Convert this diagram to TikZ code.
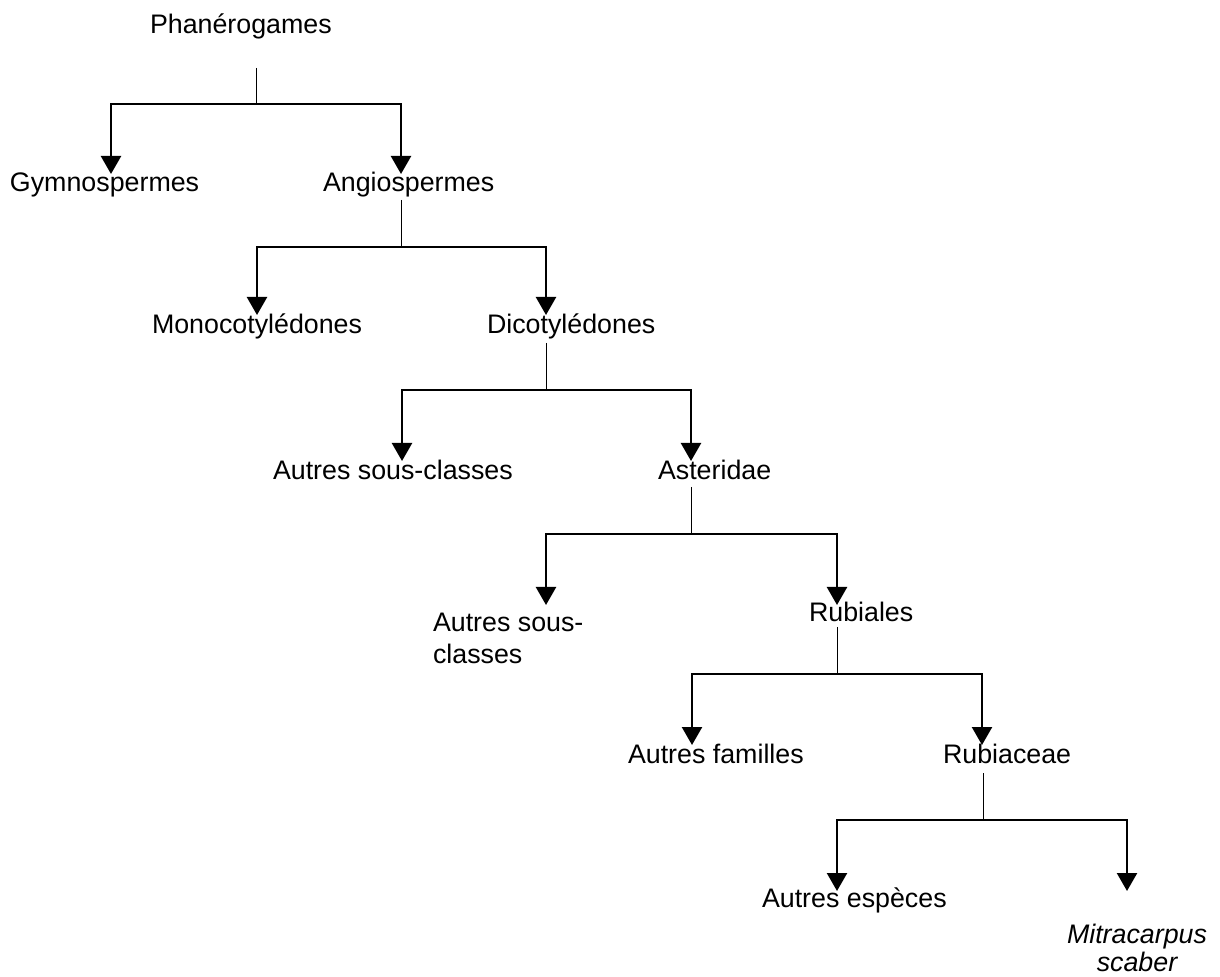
\documentclass[tikz,border=0pt]{standalone}
\usepackage{fontspec}
\setmainfont{Liberation Sans}
\usetikzlibrary{arrows.meta}
\begin{document}
\begin{tikzpicture}[x=0.5pt,y=-0.5pt,
  lbl/.style={inner sep=0pt,outer sep=0pt,anchor=base west,font=\fontsize{13.4}{16}\selectfont},
  stem/.style={line width=0.5pt},
  arr/.style={line width=1.2pt,-{Triangle[width=10pt,length=9pt]}}]
\useasboundingbox (0,0) rectangle (1220,977);
% labels
\node[lbl] (phan) at (150,34) {Phanérogames};
\node[lbl] (gymno) at (10,192) {Gymnospermes};
\node[lbl] (angio) at (323,192) {Angiospermes};
\node[lbl] (mono) at (152,334) {Monocotylédones};
\node[lbl] (dico) at (487,334) {Dicotylédones};
\node[lbl] (asc1) at (273,480) {Autres sous-classes};
\node[lbl] (aster) at (658,480) {Asteridae};
\node[lbl,align=left] (asc2) at (433,663) {Autres sous-\\classes};
\node[lbl] (rubi) at (809,622) {Rubiales};
\node[lbl] (fam) at (628,763) {Autres familles};
\node[lbl] (rubc) at (943,763) {Rubiaceae};
\node[lbl] (esp) at (762,907) {Autres espèces};
\node[lbl,anchor=base,align=center,font=\fontsize{13.4}{14}\selectfont\itshape] (mitra) at (1137,971) {Mitracarpus\\scaber};
% connector points
\coordinate (s0) at (256,68);  \coordinate (j0) at (256,104);
\coordinate (t0a) at (111,174); \coordinate (t0b) at (401,174);
\coordinate (s1) at (401,200); \coordinate (j1) at (401,247);
\coordinate (t1a) at (257,315); \coordinate (t1b) at (546,315);
\coordinate (s2) at (546,343); \coordinate (j2) at (546,390);
\coordinate (t2a) at (402,461); \coordinate (t2b) at (691,461);
\coordinate (s3) at (691,487); \coordinate (j3) at (691,534);
\coordinate (t3a) at (546,605); \coordinate (t3b) at (837,605);
\coordinate (s4) at (837,627); \coordinate (j4) at (837,674);
\coordinate (t4a) at (692,745); \coordinate (t4b) at (982,745);
\coordinate (s5) at (983,773); \coordinate (j5) at (983,820);
\coordinate (t5a) at (837,891); \coordinate (t5b) at (1127,891);
% connectors
\foreach \i in {0,...,5}{
  \draw[stem] (s\i) -- (j\i);
  \draw[arr] (j\i) -| (t\i a);
  \draw[arr] (j\i) -| (t\i b);
}
\end{tikzpicture}
\end{document}
